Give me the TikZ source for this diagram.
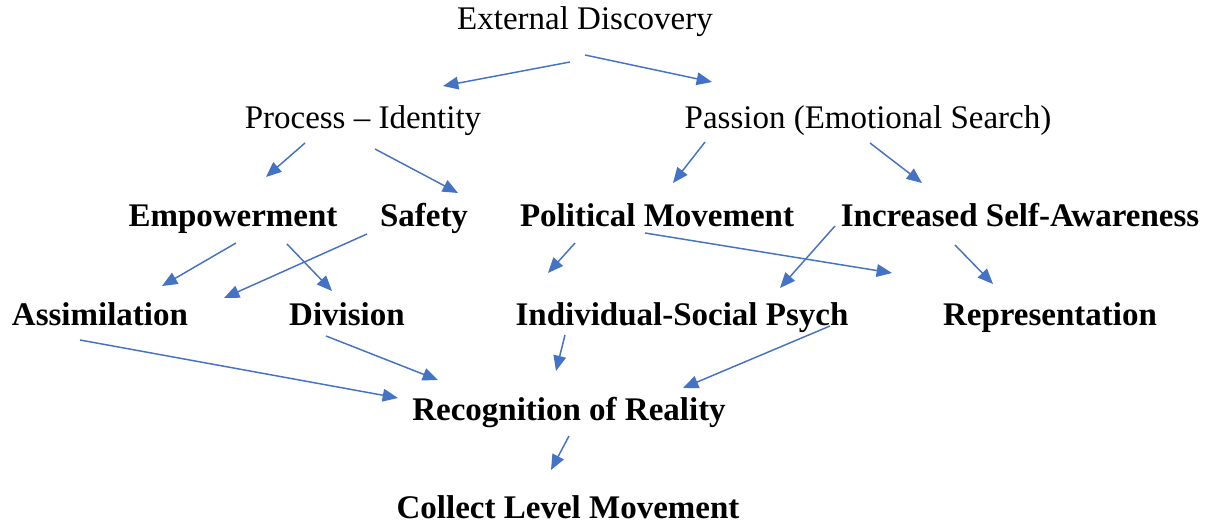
\documentclass[tikz,border=0pt]{standalone}
\usepackage{fontspec}
\setmainfont{Liberation Serif}
\usetikzlibrary{arrows.meta}
\definecolor{arrowblue}{HTML}{4472C4}
\tikzset{
  lbl/.style={anchor=base, inner sep=0pt, font=\fontsize{24.75}{30}\selectfont},
  blbl/.style={lbl, font=\fontsize{24.75}{30}\selectfont\bfseries},
  conn/.style={draw=arrowblue, line width=1.1pt, -{Triangle[length=11.5pt,width=9.5pt]}}
}
\begin{document}
\begin{tikzpicture}[x=0.75pt,y=-0.75pt]
\useasboundingbox (0,0) rectangle (1215,527);
% text nodes
\node[lbl] (ext) at (585,30) {External Discovery};
\node[lbl] (proc) at (363,129) {Process -- Identity};
\node[lbl] (pass) at (868,129) {Passion (Emotional Search)};
\node[blbl] (emp) at (233,227) {Empowerment};
\node[blbl] (saf) at (424,227) {Safety};
\node[blbl] (pol) at (657,227) {Political Movement};
\node[blbl] (inc) at (1020,227) {Increased Self-Awareness};
\node[blbl] (ass) at (100,326) {Assimilation};
\node[blbl] (div) at (347,326) {Division};
\node[blbl] (ind) at (682,326) {Individual-Social Psych};
\node[blbl] (rep) at (1050,326) {Representation};
\node[blbl] (rec) at (569,421) {Recognition of Reality};
\node[blbl] (col) at (568,518) {Collect Level Movement};
% arrow endpoints
\coordinate (a1s) at (570,62);  \coordinate (a1e) at (443,86);
\coordinate (a2s) at (585,55);  \coordinate (a2e) at (712,82);
\coordinate (a3s) at (305,143); \coordinate (a3e) at (266,177);
\coordinate (a4s) at (375,149); \coordinate (a4e) at (458,193);
\coordinate (a5s) at (705,142); \coordinate (a5e) at (673,183);
\coordinate (a6s) at (870,143); \coordinate (a6e) at (922,183);
\coordinate (a7s) at (236,243); \coordinate (a7e) at (162,286);
\coordinate (a8s) at (287,244); \coordinate (a8e) at (332,291);
\coordinate (a9s) at (367,234); \coordinate (a9e) at (224,298);
\coordinate (a10s) at (575,243); \coordinate (a10e) at (548,273);
\coordinate (a11s) at (645,233); \coordinate (a11e) at (892,273);
\coordinate (a12s) at (835,226); \coordinate (a12e) at (780,288);
\coordinate (a13s) at (955,245); \coordinate (a13e) at (993,284);
\coordinate (a14s) at (80,340);  \coordinate (a14e) at (398,398);
\coordinate (a15s) at (326,336); \coordinate (a15e) at (438,380);
\coordinate (a16s) at (565,335); \coordinate (a16e) at (556,371);
\coordinate (a17s) at (830,326); \coordinate (a17e) at (683,388);
\coordinate (a18s) at (569,436); \coordinate (a18e) at (551,470);
% connectors
\foreach \i in {1,...,18} {\draw[conn] (a\i s) -- (a\i e);}
\end{tikzpicture}
\end{document}
